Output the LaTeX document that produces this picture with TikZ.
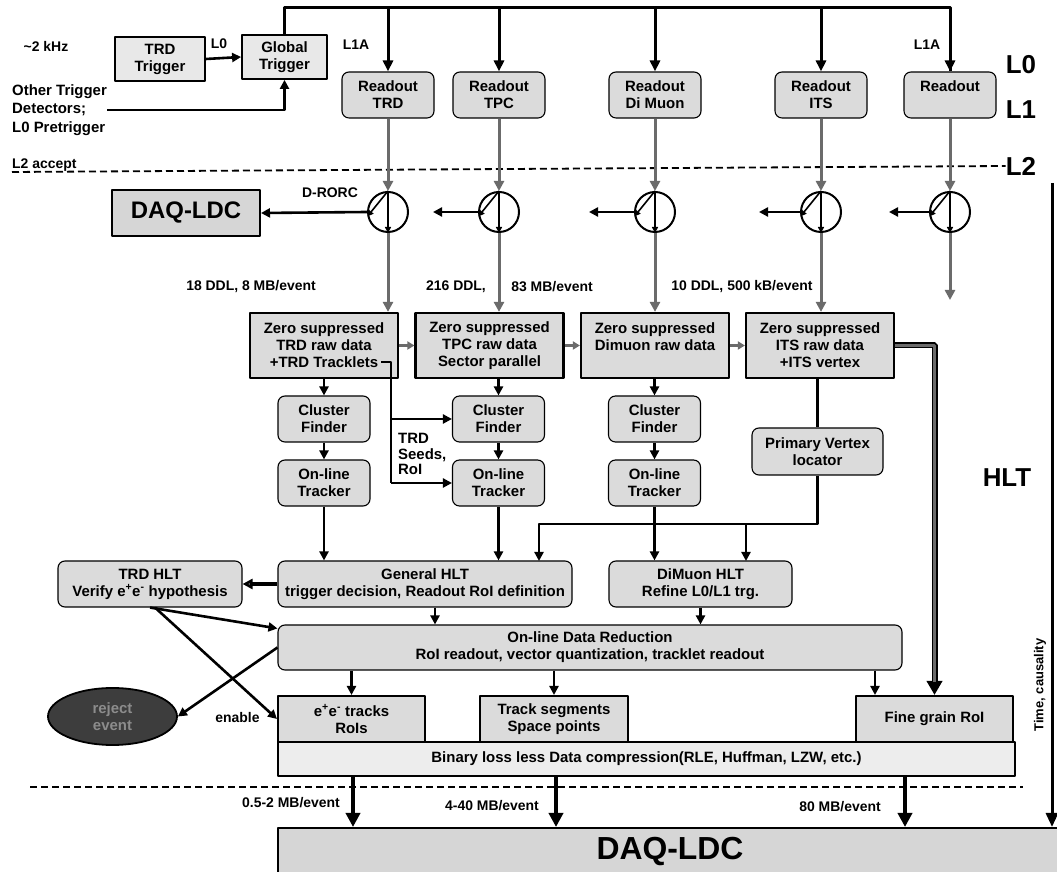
\documentclass[tikz,border=0pt]{standalone}
\usepackage{fontspec}
\setmainfont{Liberation Sans}
\usetikzlibrary{arrows.meta,calc,shapes.geometric}
\definecolor{boxgray}{gray}{0.86}
\definecolor{triggray}{gray}{0.91}
\definecolor{bingray}{gray}{0.93}
\definecolor{daqgray}{gray}{0.84}
\definecolor{rejgray}{gray}{0.24}
\definecolor{rejtext}{gray}{0.55}
\definecolor{flowgray}{gray}{0.42}
\newcommand{\sz}[2]{\fontsize{#1}{#2}\selectfont}
\tikzset{
  every node/.style={font=\bfseries\sz{15}{17}, align=center, inner sep=0pt},
  trigbox/.style={draw, line width=1.8bp, fill=triggray, minimum height=44bp},
  rdbox/.style={draw, line width=1.1bp, fill=boxgray, rounded corners=7bp, minimum width=92bp, minimum height=46bp},
  zbox/.style={draw, line width=2.2bp, fill=boxgray, minimum width=148bp, minimum height=65bp},
  sqbox/.style={draw, line width=2bp, fill=boxgray, minimum height=46bp},
  daqbox/.style={draw, line width=2bp, fill=daqgray},
  rorc/.style={circle, draw, line width=2bp, fill=white, minimum size=40bp},
  biglbl/.style={font=\bfseries\sz{26}{30}},
  smalllbl/.style={font=\bfseries\sz{14}{16}},
  bus/.style={line width=3bp},
  busdrop/.style={line width=3bp, -{Triangle[length=11bp,width=10bp]}},
  feed/.style={draw=flowgray, line width=3bp, -{Triangle[length=10bp,width=10bp]}},
  blk/.style={line width=2.6bp, -{Triangle[length=9bp,width=9bp]}},
  link/.style={line width=2.6bp},
  fat/.style={line width=4bp, -{Triangle[length=14bp,width=14bp]}},
  inner/.style={line width=1.6bp, -{Triangle[length=6bp,width=6bp]}},
  sepline/.style={line width=1.8bp, dash pattern=on 7bp off 4bp},
}
\begin{document}
\begin{tikzpicture}[line join=bevel]
\clip (0bp,0bp) rectangle (1057bp,872bp);
%% trigger level
\node (khz) at (46bp,826bp) [smalllbl] {\textasciitilde 2 kHz};
\node (trdtrig) at (160bp,813bp) [trigbox, minimum width=90bp] {TRD\\Trigger};
\node (gtrig) at (284.5bp,815bp) [trigbox, minimum width=85bp] {Global\\Trigger};
\node (l0s) at (219bp,828bp) [smalllbl] {L0};
\node (other) at (12bp,762bp) [anchor=west, align=left, font=\bfseries\sz{15}{18.5}] {Other Trigger\\Detectors;\\L0 Pretrigger};
\node (l1a) at (356bp,827bp) [smalllbl] {L1A};
\node (l1ab) at (927bp,827bp) [smalllbl] {L1A};
\node (rdtrd) at (388bp,777bp) [rdbox] {Readout\\TRD};
\node (rdtpc) at (499bp,777bp) [rdbox] {Readout\\TPC};
\node (rdmu) at (655bp,777bp) [rdbox] {Readout\\Di Muon};
\node (rdits) at (821bp,777bp) [rdbox] {Readout\\ITS};
\node (rdx) at (950bp,777bp) [rdbox] {Readout\\\mbox{}};
\node (lvl0) at (1021bp,807bp) [biglbl] {L0};
\node (lvl1) at (1021bp,762bp) [biglbl] {L1};
\node (lvl2) at (1021bp,706bp) [biglbl] {L2};
\node (l2acc) at (12bp,707bp) [anchor=west, smalllbl] {L2 accept};
\draw [sepline] (12bp,700bp) -- (lvl2.west);
%% D-RORC level
\node (drorc) at (330bp,679bp) [smalllbl] {D-RORC};
\node (daqs) at (186bp,659bp) [daqbox, minimum width=148bp, minimum height=46bp, font=\bfseries\sz{24}{28}] {DAQ-LDC};
\node (ctrd) at (388bp,660bp) [rorc] {};
\node (ctpc) at (499bp,660bp) [rorc] {};
\node (cmu) at (655bp,660bp) [rorc] {};
\node (cits) at (821bp,660bp) [rorc] {};
\node (cx) at (950bp,660bp) [rorc] {};
\coordinate (otpc) at (433bp,660bp);
\coordinate (omu) at (589bp,660bp);
\coordinate (oits) at (759bp,660bp);
\coordinate (ox) at (889bp,660bp);
\coordinate (xend) at (950bp,572bp);
\node (rate1) at (251bp,585bp) [smalllbl] {18 DDL, 8 MB/event};
\node (rate2a) at (456bp,585bp) [smalllbl] {216 DDL,};
\node (rate2b) at (552bp,585bp) [smalllbl] {83 MB/event};
\node (rate3) at (742bp,585bp) [smalllbl] {10 DDL, 500 kB/event};
%% HLT
\node (ztrd) at (324bp,526.5bp) [zbox] {Zero suppressed\\TRD raw data\\+TRD Tracklets};
\node (ztpc) at (489.5bp,526.5bp) [zbox] {Zero suppressed\\TPC raw data\\Sector parallel};
\node (zmu) at (655bp,526.5bp) [zbox] {Zero suppressed\\Dimuon raw data\\\mbox{}};
\node (zits) at (820bp,526.5bp) [zbox] {Zero suppressed\\ITS raw data\\+ITS vertex};
\node (cftrd) at (324bp,453bp) [rdbox] {Cluster\\Finder};
\node (cftpc) at (498.5bp,453bp) [rdbox] {Cluster\\Finder};
\node (cfmu) at (654.5bp,453bp) [rdbox] {Cluster\\Finder};
\node (tktrd) at (324bp,389bp) [rdbox] {On-line\\Tracker};
\node (tktpc) at (498.5bp,389bp) [rdbox] {On-line\\Tracker};
\node (tkmu) at (654.5bp,389bp) [rdbox] {On-line\\Tracker};
\node (seeds) at (398bp,418bp) [anchor=west, align=left, font=\bfseries\sz{15}{15.5}] {TRD\\Seeds,\\RoI};
\node (pv) at (817.5bp,420.5bp) [rdbox, minimum width=131bp, minimum height=47bp] {Primary Vertex\\locator};
\coordinate (trkl) at (381bp,510bp);
\coordinate (trkc) at (391bp,510bp);
\coordinate (pvj) at (817.5bp,348bp);
\coordinate (gin) at (539bp,311bp);
\coordinate (min) at (746bp,311bp);
\node (hlt) at (1007bp,394bp) [biglbl] {HLT};
\node (thlt) at (150bp,288bp) [rdbox, minimum width=184bp] {TRD HLT\\Verify e\textsuperscript{+}e\textsuperscript{-} hypothesis};
\node (ghlt) at (425bp,288bp) [rdbox, minimum width=294bp] {General HLT\\trigger decision, Readout RoI definition};
\node (mhlt) at (700.5bp,288bp) [rdbox, minimum width=183bp] {DiMuon HLT\\Refine L0/L1 trg.};
\node (odr) at (590bp,224.5bp) [rdbox, minimum width=624bp, minimum height=45bp] {On-line Data Reduction\\RoI readout, vector quantization, tracklet readout};
\coordinate (godr) at (435bp,0bp);
\coordinate (fin) at (875bp,0bp);
\node (reject) at (112.5bp,155.5bp) [ellipse, draw, line width=1.8bp, fill=rejgray, text=rejtext, minimum width=129bp, minimum height=57bp] {reject\\event};
\node (enable) at (237.5bp,154bp) [smalllbl] {enable};
\node (eetr) at (351.5bp,153bp) [sqbox, minimum width=147bp] {e\textsuperscript{+}e\textsuperscript{-} tracks\\RoIs};
\node (tseg) at (554bp,153bp) [sqbox, minimum width=148bp] {Track segments\\Space points};
\node (fine) at (934.5bp,153bp) [sqbox, minimum width=157bp] {Fine grain RoI};
\node (bin) at (646.5bp,113bp) [draw, line width=2bp, fill=bingray, minimum width=737bp, minimum height=34bp] {Binary loss less Data compression(RLE, Huffman, LZW, etc.)};
\draw [sepline] (30bp,85bp) -- (1023bp,85bp);
\node (rate4) at (291bp,69bp) [smalllbl] {0.5-2 MB/event};
\node (rate5) at (492bp,66bp) [smalllbl] {4-40 MB/event};
\node (rate6) at (840bp,65bp) [smalllbl] {80 MB/event};
\node (daqb) at (670bp,20bp) [daqbox, minimum width=784bp, minimum height=48bp, font=\bfseries\sz{32}{36}] {DAQ-LDC};
\coordinate (d1) at (353bp,0bp);
\coordinate (d2) at (556bp,0bp);
\coordinate (d3) at (905bp,0bp);
\coordinate (tstart) at (1052bp,689bp);
\node (timetxt) at (1040bp,187bp) [rotate=90, font=\bfseries\sz{13}{15}] {Time, causality};
%% trigger connectors
\draw [blk] (trdtrig.east) -- (gtrig.west);
\draw [blk] (other.east) -| (gtrig.south);
\coordinate (bustop) at (284.5bp,864bp);
\draw [bus] (gtrig.north) -- (bustop) -| (rdx.north);
\draw [busdrop] (rdx.north |- bustop) -- (rdx.north);
\foreach \r in {rdtrd,rdtpc,rdmu,rdits}
  \draw [busdrop] (\r.north |- bustop) -- (\r.north);
%% readout to D-RORC to HLT
\foreach \r/\c in {rdtrd/ctrd,rdtpc/ctpc,rdmu/cmu,rdits/cits,rdx/cx}{
  \draw [feed] (\r.south) -- (\c.north);
  \draw [inner] (\c.north) -- (\c.south);
  \draw [inner] (\c.north) -- (\c.192);
}
\draw [blk] (ctrd.west) -- (daqs.east);
\foreach \c/\o in {ctpc/otpc,cmu/omu,cits/oits,cx/ox}
  \draw [blk] (\c.west) -- (\o);
\foreach \c/\z in {ctrd/ztrd,ctpc/ztpc,cmu/zmu,cits/zits}
  \draw [feed] (\c.south) -- (\c.south |- \z.north);
\draw [feed] (cx.south) -- (xend);
\draw [feed, -{Triangle[length=7bp,width=8bp]}] (ztrd.east) -- (ztpc.west);
\draw [feed, -{Triangle[length=7bp,width=8bp]}] (ztpc.east) -- (zmu.west);
\draw [feed, -{Triangle[length=7bp,width=8bp]}] (zmu.east) -- (zits.west);
\draw [blk] (ztrd.south) -- (cftrd.north);
\draw [blk] (cftpc.north |- ztpc.south) -- (cftpc.north);
\draw [blk] (zmu.south -| cfmu.north) -- (cfmu.north);
\draw [blk] (cftrd) -- (tktrd);
\draw [blk] (cftpc) -- (tktpc);
\draw [blk] (cfmu) -- (tkmu);
\draw [link] (trkl) -- (trkc) -- (trkc |- tktpc.west);
\draw [blk] (trkc |- cftpc.west) -- (cftpc.west);
\draw [blk] (trkc |- tktpc.west) -- (tktpc.west);
\draw [link] (zits.south -| pv.north) -- (pv.north);
\draw [blk] (pv.south) -- (pvj) -| (gin);
\draw [blk] (min |- pvj) -- (min);
\draw [blk] (tktrd.south) -- (tktrd.south |- ghlt.north);
\draw [blk] (tktpc.south) -- (tktpc.south |- ghlt.north);
\draw [blk] (tkmu.south) -- (tkmu.south |- mhlt.north);
\draw [line width=6bp, -{Triangle[length=14bp,width=15bp]}, postaction={draw=flowgray, line width=2.4bp, -, shorten >=13bp}] (zits.east) -| (fine.north);
\draw [line width=3.4bp, -{Triangle[length=10bp,width=10bp,fill=flowgray]}] (ghlt.west) -- (thlt.east);
\draw [blk] (ghlt.south -| godr) -- (odr.north -| godr);
\draw [blk] (mhlt.south) -- (mhlt.south |- odr.north);
\draw [blk] (thlt.south) -- ($(odr.north west)+(0,-4bp)$);
\draw [blk] ($(thlt.south)+(5bp,0)$) -- (eetr.west);
\draw [blk] (odr.west) -- (reject.east);
\draw [blk] (odr.south -| eetr.north) -- (eetr.north);
\draw [blk] (odr.south -| tseg.north) -- (tseg.north);
\draw [blk] (odr.south -| fin) -- (fine.north -| fin);
\foreach \d in {d1,d2,d3}
  \draw [fat] (bin.south -| \d) -- (daqb.north -| \d);
\draw [line width=3bp, -{Triangle[length=14bp,width=12bp]}] (tstart) -- (tstart |- daqb.north);
%
\end{tikzpicture}
\end{document}
